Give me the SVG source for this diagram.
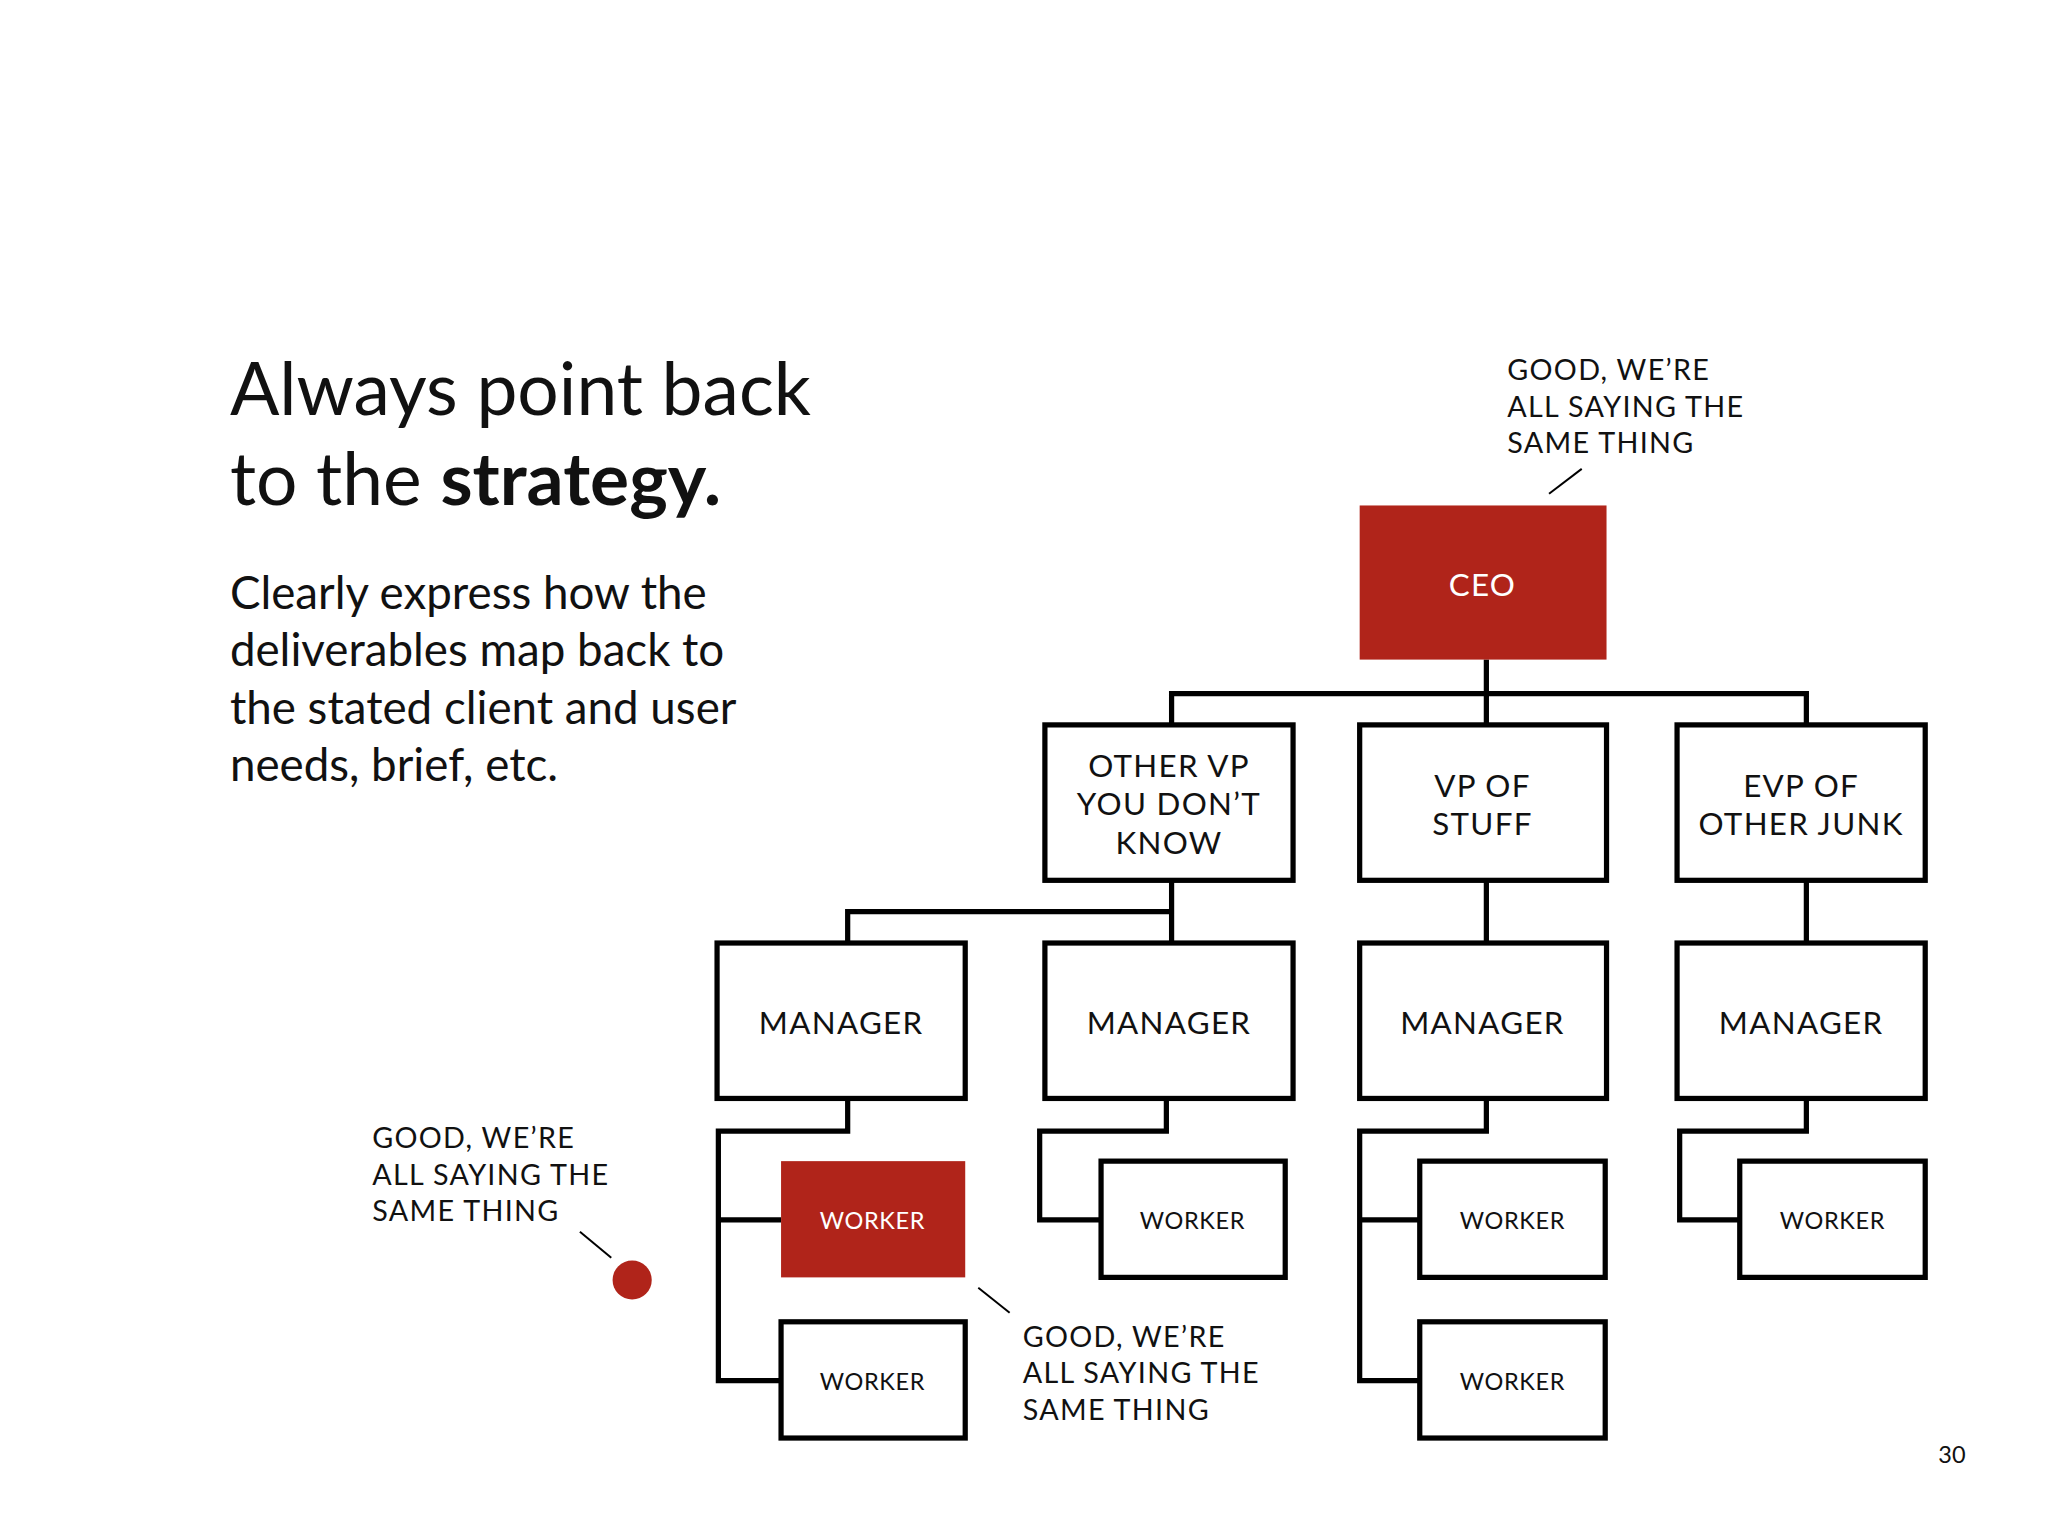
<svg xmlns="http://www.w3.org/2000/svg" width="2048" height="1536" viewBox="0 0 2048 1536">
<style>
text{font-family:Lato,"Open Sans","Liberation Sans",sans-serif;fill:#111}
.box{fill:#fff;stroke:#000;stroke-width:4}
.red{fill:#b0241a}
.lbl{font-size:24px;text-anchor:middle;letter-spacing:1px}
.wk{font-size:18px;text-anchor:middle;letter-spacing:0.5px}
.wt{fill:#fff}
.note{font-size:22px;letter-spacing:1px}
.con{fill:none;stroke:#000;stroke-width:4}
.thin{stroke:#000;stroke-width:1.5}
</style>
<rect width="2048" height="1536" fill="#fff"/>
<g transform="scale(1.30612)">
<g id="title">
<text x="176" y="318" font-size="56">Always point back</text>
<text x="176" y="387" font-size="56">to the <tspan font-weight="bold">strategy.</tspan></text>
<text x="176" y="466" font-size="35">Clearly express how the</text>
<text x="176" y="510" font-size="35">deliverables map back to</text>
<text x="176" y="554" font-size="35">the stated client and user</text>
<text x="176" y="598" font-size="35">needs, brief, etc.</text>
</g>
<g id="connectors" class="con">
<path d="M1138 505V555M897 555V531H1383V555"/>
<path d="M897 674V722M897 698H649V722"/>
<path d="M1138 674V722M1383 674V722"/>
<path d="M649 841V866H550V1057H598M550 934H598"/>
<path d="M893 841V866H796V934H843"/>
<path d="M1138 841V866H1041V1057H1087M1041 934H1087"/>
<path d="M1383 841V866H1286V934H1332"/>
</g>
<g id="ceo"><rect class="red" x="1041" y="387" width="189" height="118"/><text class="lbl wt" x="1135" y="456">CEO</text></g>
<g id="vp1"><rect class="box" x="800" y="555" width="190" height="119"/><text class="lbl" x="895" y="595">OTHER VP</text><text class="lbl" x="895" y="624">YOU DON’T</text><text class="lbl" x="895" y="654">KNOW</text></g>
<g id="vp2"><rect class="box" x="1041" y="555" width="189" height="119"/><text class="lbl" x="1135" y="610">VP OF</text><text class="lbl" x="1135" y="639">STUFF</text></g>
<g id="vp3"><rect class="box" x="1284" y="555" width="190" height="119"/><text class="lbl" x="1379" y="610">EVP OF</text><text class="lbl" x="1379" y="639">OTHER JUNK</text></g>
<g id="m1"><rect class="box" x="549" y="722" width="190" height="119"/><text class="lbl" x="644" y="792">MANAGER</text></g>
<g id="m2"><rect class="box" x="800" y="722" width="190" height="119"/><text class="lbl" x="895" y="792">MANAGER</text></g>
<g id="m3"><rect class="box" x="1041" y="722" width="189" height="119"/><text class="lbl" x="1135" y="792">MANAGER</text></g>
<g id="m4"><rect class="box" x="1284" y="722" width="190" height="119"/><text class="lbl" x="1379" y="792">MANAGER</text></g>
<g id="w1"><rect class="red" x="598" y="889" width="141" height="89"/><text class="wk wt" x="668" y="941">WORKER</text></g>
<g id="w2"><rect class="box" x="598" y="1012" width="141" height="89"/><text class="wk" x="668" y="1064">WORKER</text></g>
<g id="w3"><rect class="box" x="843" y="889" width="141" height="89"/><text class="wk" x="913" y="941">WORKER</text></g>
<g id="w4"><rect class="box" x="1087" y="889" width="142" height="89"/><text class="wk" x="1158" y="941">WORKER</text></g>
<g id="w5"><rect class="box" x="1087" y="1012" width="142" height="89"/><text class="wk" x="1158" y="1064">WORKER</text></g>
<g id="w6"><rect class="box" x="1332" y="889" width="142" height="89"/><text class="wk" x="1403" y="941">WORKER</text></g>
<g id="note1"><text class="note" x="1154" y="291">GOOD, WE’RE</text><text class="note" x="1154" y="319">ALL SAYING THE</text><text class="note" x="1154" y="347">SAME THING</text><line class="thin" x1="1186" y1="378" x2="1211" y2="359"/></g>
<g id="note2"><text class="note" x="285" y="879">GOOD, WE’RE</text><text class="note" x="285" y="907">ALL SAYING THE</text><text class="note" x="285" y="935">SAME THING</text><line class="thin" x1="444" y1="943" x2="468" y2="963"/><circle class="red" cx="484" cy="980" r="15"/></g>
<g id="note3"><text class="note" x="783" y="1031">GOOD, WE’RE</text><text class="note" x="783" y="1059">ALL SAYING THE</text><text class="note" x="783" y="1087">SAME THING</text><line class="thin" x1="749" y1="986" x2="773" y2="1005"/></g>
<text x="1484" y="1120" font-size="18">30</text>
</g>
</svg>
